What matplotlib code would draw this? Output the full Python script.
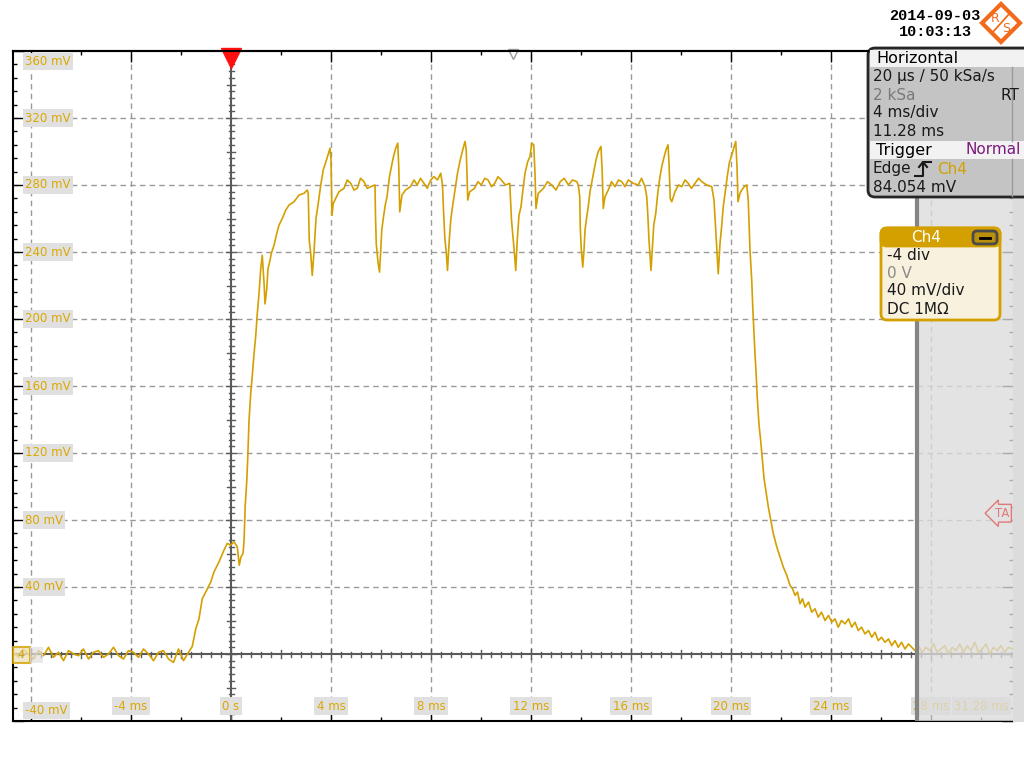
import matplotlib
matplotlib.use("Agg")
import matplotlib.pyplot as plt
from matplotlib.patches import Rectangle, FancyBboxPatch, Polygon
from matplotlib.ticker import MultipleLocator
import numpy as np

# Ch4 trace (time in ms, voltage in mV)
baseline_t = [-8.72, -8.5, -8.3, -8.1, -7.9, -7.7, -7.5, -7.3, -7.1, -6.9, -6.7, -6.5,
              -6.3, -6.1, -5.9, -5.7, -5.5, -5.3, -5.1, -4.9, -4.7, -4.5, -4.3, -4.1,
              -3.9, -3.7, -3.5, -3.3, -3.1, -2.9, -2.7, -2.5, -2.3, -2.1, -1.9, -1.7]
baseline_mv = [1, -2, 3, 0, -3, 2, -1, 4, -2, 1, -4, 2,
               0, -1, 3, -3, 1, 2, -2, 0, 4, -1, -3, 2,
               1, -2, 3, 0, -4, 1, 2, -3, -5, 3, -4, 1]

rise_t = [-1.55, -1.41, -1.28, -1.15, -1.01, -0.81, -0.68, -0.48, -0.28, -0.15, -0.01, 0.12,
          0.25, 0.33, 0.40, 0.48, 0.52, 0.57, 0.63, 0.67, 0.72, 0.79, 0.85, 0.92,
          0.99, 1.05, 1.12, 1.19, 1.25, 1.32, 1.36, 1.43, 1.48, 1.56, 1.61, 1.72,
          1.83, 1.92, 2.05, 2.19, 2.32, 2.52, 2.72, 2.92, 3.05, 3.09, 3.13, 3.19,
          3.25, 3.32, 3.40, 3.48, 3.59, 3.69, 3.80, 3.88, 3.96, 4.00, 4.04, 4.09,
          4.19, 4.32, 4.52, 4.65, 4.79, 4.92, 5.05, 5.18, 5.32, 5.45, 5.59]
rise_mv = [4.5, 15, 21, 33, 37, 43, 49, 55, 62, 66, 65, 67,
           64, 53, 58, 60, 67, 89, 103, 117, 139, 156, 166, 179,
           190, 203, 215, 230, 238, 222, 209, 218, 230, 235, 239, 244,
           251, 256, 260, 265, 268, 270, 274, 275, 277, 275, 247, 239,
           226, 240, 260, 268, 280, 289, 294, 298, 302, 295, 262, 269,
           272, 276, 278, 283, 281, 277, 278, 284, 282, 278, 279]

pulse_t = [5.76, 5.78, 5.81, 5.88, 5.94, 5.99, 6.03, 6.10, 6.17, 6.24, 6.34, 6.43,
           6.50, 6.59, 6.67, 6.71, 6.75, 6.84, 6.98, 7.18, 7.32, 7.45, 7.58, 7.72,
           7.85, 7.99, 8.12, 8.26, 8.39, 8.46, 8.50, 8.55, 8.61, 8.66, 8.73, 8.79,
           8.86, 8.96, 9.06, 9.17, 9.27, 9.36, 9.41, 9.47, 9.55, 9.74, 9.88, 10.01,
           10.15, 10.28, 10.42, 10.55, 10.68, 10.81, 10.98, 11.15, 11.22, 11.29, 11.35, 11.39,
           11.45, 11.52, 11.60, 11.66, 11.76, 11.87, 11.96, 12.03, 12.11, 12.16, 12.20, 12.29,
           12.50, 12.66, 12.83, 13.00, 13.17, 13.33, 13.50, 13.66, 13.83,
           13.89, 13.95, 13.97, 14.01, 14.07, 14.12, 14.16, 14.23, 14.29, 14.36, 14.45, 14.53,
           14.60, 14.69, 14.80, 14.85, 14.89, 14.96, 15.09, 15.22, 15.36, 15.50, 15.63, 15.76,
           15.89, 16.09, 16.29, 16.42, 16.56, 16.63, 16.67, 16.72, 16.76, 16.80, 16.85, 16.91,
           16.99, 17.07, 17.16, 17.23, 17.31, 17.40, 17.48, 17.52, 17.57, 17.63, 17.76, 17.90,
           18.03, 18.16, 18.29, 18.42, 18.56, 18.70, 18.83, 19.03, 19.23, 19.32, 19.39, 19.44,
           19.49, 19.56, 19.63, 19.69, 19.76, 19.85, 19.93, 20.03, 20.09, 20.19, 20.24, 20.28,
           20.36, 20.43, 20.53, 20.63]
pulse_mv = [280, 262, 245, 234, 228, 241, 253, 261, 268, 273, 285, 292,
            297, 302, 305, 291, 264, 274, 277, 279, 283, 280, 284, 281,
            278, 283, 285, 283, 287, 280, 265, 249, 240, 229, 247, 259,
            267, 277, 287, 295, 301, 306, 301, 271, 276, 278, 282, 280,
            284, 283, 279, 281, 285, 283, 280, 281, 259, 247, 237, 229,
            247, 262, 267, 275, 287, 294, 297, 305, 304, 287, 266, 275,
            278, 282, 280, 277, 282, 284, 280, 283, 282,
            280, 273, 255, 242, 231, 241, 253, 261, 267, 276, 283, 289,
            295, 300, 303, 287, 266, 273, 277, 282, 279, 283, 282, 279,
            283, 281, 280, 284, 279, 273, 263, 247, 238, 229, 241, 256,
            263, 275, 285, 291, 296, 301, 304, 293, 272, 270, 276, 280,
            279, 283, 281, 278, 281, 284, 282, 280, 279, 271, 253, 241,
            227, 245, 256, 267, 275, 285, 293, 298, 301, 306, 291, 270,
            275, 277, 279, 280]

fall_t = [20.69, 20.76, 20.83, 20.87, 20.92, 20.96, 21.00, 21.05, 21.12, 21.19, 21.25, 21.32,
          21.39, 21.49, 21.59, 21.69, 21.83, 21.96, 22.09, 22.23, 22.36, 22.46, 22.56, 22.66,
          22.76, 22.86, 22.96, 23.10, 23.23, 23.36, 23.49, 23.62, 23.76, 23.90, 24.03, 24.16,
          24.29, 24.42, 24.56, 24.70, 24.83, 24.96, 25.09, 25.22, 25.36, 25.50, 25.63, 25.76,
          25.89, 26.02, 26.16, 26.30, 26.43, 26.56, 26.69, 26.82, 26.96, 27.10, 27.23, 27.36,
          27.49, 27.65, 27.8, 27.95, 28.1, 28.25, 28.4, 28.55, 28.7, 28.85, 29.0, 29.15,
          29.3, 29.45, 29.6, 29.75, 29.9, 30.05, 30.2, 30.35, 30.5, 30.65, 30.8, 30.95,
          31.1, 31.28]
fall_mv = [271, 241, 223, 207, 191, 179, 169, 153, 137, 127, 117, 105,
           98, 88, 80, 72, 64, 58, 52, 47, 41, 39, 35, 37,
           30, 33, 28, 31, 25, 27, 22, 25, 20, 23, 19, 21,
           16, 20, 18, 21, 16, 19, 14, 16, 12, 14, 10, 13,
           8, 10, 7, 9, 5, 8, 4, 7, 3, 6, 4, 2,
           5, 1, 4, 2, 6, 1, 3, 5, 0, 4, 2, 6,
           1, 5, 2, 7, 1, 3, 6, 0, 4, 2, 5, 1,
           4, 3]

x_grid = [-8, -4, 4, 8, 12, 16, 20, 24, 28]
y_grid = [40, 80, 120, 160, 200, 240, 280, 320]
x_label_vals = [-4, 0, 4, 8, 12, 16, 20, 24, 28]
x_label_txt = ['-4 ms', '0 s', '4 ms', '8 ms', '12 ms', '16 ms', '20 ms', '24 ms', '28 ms']
y_label_vals = [360, 320, 280, 240, 200, 160, 120, 80, 40, -40]
y_label_txt = ['360 mV', '320 mV', '280 mV', '240 mV', '200 mV', '160 mV', '120 mV',
               '80 mV', '40 mV', '-40 mV']

t_start, t_end = -8.72, 31.28
v_lo, v_hi = -40, 360
trigger_mv = 84.054
hold_t = 27.44  # start of the greyed-out region

GOLD = '#d4a000'
LABEL_GOLD = '#dba800'
GRID = '#9a9a9a'
RS_ORANGE = '#f26b1d'

t_ms = np.array(baseline_t + rise_t + pulse_t + fall_t)
v_mv = np.array(baseline_mv + rise_mv + pulse_mv + fall_mv)

fig = plt.figure(figsize=(10.24, 7.68), dpi=100)
ax = fig.add_axes([13 / 1024, 47 / 768, 1000 / 1024, 670 / 768])
ax.set_xlim(t_start, t_end)
ax.set_ylim(v_lo, v_hi)

# dashed grid
for xv in x_grid:
    ax.axvline(xv, color=GRID, lw=1, ls=(0, (4, 3)), zorder=1)
for yv in y_grid:
    ax.axhline(yv, color=GRID, lw=1, ls=(0, (4, 3)), zorder=1)

# centre axes with their little ticks
ax.axhline(0, color='#5a5a5a', lw=1.5, zorder=2)
ax.axvline(0, color='#5a5a5a', lw=1.5, zorder=2)
mv_px = (v_hi - v_lo) / 670
ms_px = (t_end - t_start) / 1000
xt = np.arange(-8.4, 31.3, 0.4)
for x in xt:
    k = round(x / 0.4)
    ln = 5 if k % 10 == 0 else (4 if k % 5 == 0 else 2.5)
    ax.plot([x, x], [-ln * mv_px, ln * mv_px], color='#5a5a5a', lw=1, zorder=2)
yt = np.arange(-36, 360, 4)
for y in yt:
    k = round(y / 4)
    ln = 5 if k % 10 == 0 else (4 if k % 5 == 0 else 2.5)
    ax.plot([-ln * ms_px, ln * ms_px], [y, y], color='#5a5a5a', lw=1, zorder=2)

ax.plot(t_ms, v_mv, color=GOLD, lw=1.2, zorder=4)

# frame
for s in ['left', 'top', 'bottom']:
    ax.spines[s].set_color('black')
    ax.spines[s].set_linewidth(1.5)
ax.spines['right'].set_color('#555555')
ax.xaxis.set_major_locator(MultipleLocator(4))
ax.xaxis.set_minor_locator(MultipleLocator(2))
ax.yaxis.set_major_locator(MultipleLocator(40))
ax.yaxis.set_minor_locator(MultipleLocator(8))
ax.tick_params(which='both', direction='in', top=True, right=True,
               labelbottom=False, labelleft=False, color='black', width=1)
ax.tick_params(which='major', length=8)
ax.tick_params(which='minor', length=3)

lbl_box = dict(boxstyle='square,pad=0.2', fc='#e0e0e0', ec='none')
for val, txt in zip(y_label_vals, y_label_txt):
    if val == v_hi:
        va, dy = 'top', -4
    elif val == v_lo:
        va, dy = 'bottom', 4
    else:
        va, dy = 'center', 0
    ax.annotate(txt, xy=(0, val), xycoords=('axes fraction', 'data'),
                xytext=(12, dy), textcoords='offset pixels', ha='left', va=va,
                fontsize=8.5, color=LABEL_GOLD, bbox=lbl_box, zorder=3)
for val, txt in zip(x_label_vals, x_label_txt):
    ax.annotate(txt, xy=(val, 0), xycoords=('data', 'axes fraction'),
                xytext=(0, 15), textcoords='offset pixels', ha='center', va='center',
                fontsize=8.5, color=LABEL_GOLD, bbox=lbl_box, zorder=3)
ax.annotate('31.28 ms', xy=(1, 0), xycoords='axes fraction',
            xytext=(-4, 15), textcoords='offset pixels', ha='right', va='center',
            fontsize=8.5, color=LABEL_GOLD, bbox=lbl_box, zorder=3)

# greyed-out region on the right
ax.axvspan(hold_t, t_end, color='#dcdcdc', alpha=0.78, lw=0, zorder=5)
ax.axvline(hold_t, color='#858585', lw=3, zorder=6)

# trigger markers
ax.plot([0], [v_hi - 7 * mv_px], marker='v', markersize=14, color='#ff1010',
        clip_on=False, zorder=7)
ax.plot([11.28], [v_hi - 3 * mv_px], marker='v', markersize=7, mfc='white',
        mec='#9a9a9a', clip_on=False, zorder=7)
ax.annotate('TA', xy=(1, trigger_mv), xycoords=('axes fraction', 'data'),
            xytext=(-4, 0), textcoords='offset pixels', ha='right', va='center',
            fontsize=8.5, color='#e07a7a',
            bbox=dict(boxstyle='larrow,pad=0.2', fc='#e2e2e2', ec='#e07a7a', lw=1), zorder=7)

# overlay in screen pixels for the instrument panels
ov = fig.add_axes([0, 0, 1, 1], zorder=10)
ov.set_xlim(0, 1024)
ov.set_ylim(768, 0)
ov.set_axis_off()
ov.patch.set_visible(False)

ov.add_patch(Rectangle((1013, 48), 11, 674, fc='#dcdcdc', ec='none'))

# ground marker for Ch4
ov.add_patch(Rectangle((13, 647), 17, 16, fc='#efe3bd', ec=GOLD, lw=1.5, alpha=0.8))
ov.add_patch(Rectangle((30, 647), 13, 16, fc='#e0e0e0', ec='none', alpha=0.7))
ov.text(21.5, 655, '4', fontsize=8, color=GOLD, ha='center', va='center')

# date and logo
ov.text(935, 16, '2014-09-03', fontsize=11, fontweight='bold', family='Liberation Mono',
        ha='center', va='center', color='black')
ov.text(935, 32, '10:03:13', fontsize=11, fontweight='bold', family='Liberation Mono',
        ha='center', va='center', color='black')
ov.add_patch(Polygon([(1001, 4), (1020, 23), (1001, 42), (982, 23)], closed=True,
                     fc='white', ec=RS_ORANGE, lw=3, joinstyle='miter'))
ov.plot([1010, 992], [13, 33], color=RS_ORANGE, lw=1.3)
ov.text(995.5, 18, 'R', fontsize=9, color=RS_ORANGE, ha='center', va='center')
ov.text(1006, 29, 'S', fontsize=9, color=RS_ORANGE, ha='center', va='center')

# Horizontal / Trigger panel
ov.add_patch(FancyBboxPatch((868, 48), 180, 149, boxstyle='round,pad=0,rounding_size=7',
                            fc='#c4c4c4', ec='#262626', lw=2))
ov.add_patch(Rectangle((870, 50), 160, 17, fc='#f2f2f2', ec='none'))
ov.add_patch(Rectangle((870, 141), 160, 18, fc='#f2f2f2', ec='none'))
ov.plot([1012, 1012], [67, 141], color='#9a9a9a', lw=1)
ov.plot([1012, 1012], [159, 196], color='#9a9a9a', lw=1)
ov.plot([13, 868], [51, 51], color='black', lw=1.5)
pfs = 11
ov.text(876, 58.5, 'Horizontal', fontsize=pfs + 0.5, ha='left', va='center', color='black')
ov.text(873, 77, '20 µs / 50 kSa/s', fontsize=pfs, ha='left', va='center', color='#1a1a1a')
ov.text(873, 95, '2 kSa', fontsize=pfs, ha='left', va='center', color='#7a7a7a')
ov.text(1019, 95, 'RT', fontsize=pfs, ha='right', va='center', color='#1a1a1a')
ov.text(873, 113, '4 ms/div', fontsize=pfs, ha='left', va='center', color='#1a1a1a')
ov.text(873, 131, '11.28 ms', fontsize=pfs, ha='left', va='center', color='#1a1a1a')
ov.text(876, 150, 'Trigger', fontsize=pfs + 0.5, ha='left', va='center', color='black')
ov.text(1021, 150, 'Normal', fontsize=pfs, ha='right', va='center', color='#7b1a7b')
ov.text(873, 169, 'Edge', fontsize=pfs, ha='left', va='center', color='#1a1a1a')
ov.plot([915, 923, 923, 931], [176, 176, 162, 162], color='#1a1a1a', lw=1.5)
ov.plot([919, 923, 927], [167, 162, 167], color='#1a1a1a', lw=1.5)
ov.text(937, 169, 'Ch4', fontsize=pfs, ha='left', va='center', color=GOLD)
ov.text(873, 187, '84.054 mV', fontsize=pfs, ha='left', va='center', color='#1a1a1a')

# Ch4 box
ov.add_patch(FancyBboxPatch((881, 228), 119, 92, boxstyle='round,pad=0,rounding_size=6',
                            fc='#f8f1dd', ec=GOLD, lw=2))
ov.add_patch(FancyBboxPatch((881, 228), 119, 18, boxstyle='round,pad=0,rounding_size=6',
                            fc=GOLD, ec=GOLD, lw=2))
ov.add_patch(Rectangle((882, 238), 117, 8, fc=GOLD, ec='none'))
ov.text(926, 237, 'Ch4', fontsize=pfs, ha='center', va='center', color='white')
ov.add_patch(FancyBboxPatch((973, 231), 24, 13, boxstyle='round,pad=0,rounding_size=4',
                            fc='#b8900c', ec='#4a4a4a', lw=2))
ov.plot([980, 990], [237.5, 237.5], color='black', lw=2)
ov.text(887, 255, '-4 div', fontsize=pfs, ha='left', va='center', color='#1a1a1a')
ov.text(887, 273, '0 V', fontsize=pfs, ha='left', va='center', color='#8a8a8a')
ov.text(887, 291, '40 mV/div', fontsize=pfs, ha='left', va='center', color='#1a1a1a')
ov.text(887, 309, 'DC 1MΩ', fontsize=pfs, ha='left', va='center', color='#1a1a1a')

fig.savefig('out.png', dpi=100)
